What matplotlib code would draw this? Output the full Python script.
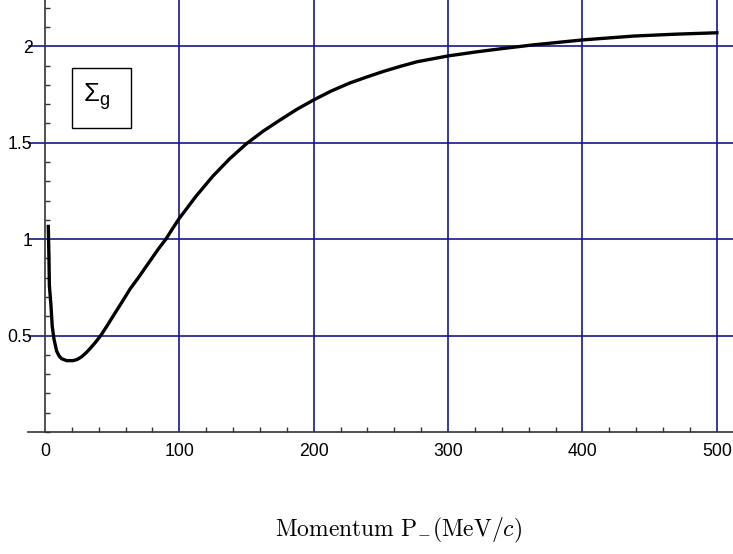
import matplotlib
matplotlib.use('Agg')
import matplotlib.pyplot as plt
import numpy as np
from matplotlib.ticker import MultipleLocator
from matplotlib.patches import Rectangle

# curve
momentum = [2.5, 3.0, 3.3, 4.5, 5.4, 6.7, 8.7, 10.5, 12.4, 16.2, 21, 24, 27.3,
            30.5, 33.5, 37.5, 41.5, 46, 50.9, 57, 63.3, 69.5, 75.7, 84.3, 90,
            95, 100, 112.6, 125, 137.5, 150, 162.4, 174.8, 187.2, 200, 213, 227,
            240, 252, 265, 277, 300, 320, 339, 363, 400, 438, 470, 500]
sigma_g = [1.066, 0.90, 0.76, 0.655, 0.55, 0.483, 0.42, 0.395, 0.38, 0.37, 0.37,
           0.376, 0.39, 0.41, 0.432, 0.464, 0.50, 0.548, 0.603, 0.67, 0.741,
           0.80, 0.862, 0.948, 1.0, 1.055, 1.108, 1.224, 1.327, 1.417, 1.495,
           1.56, 1.617, 1.672, 1.722, 1.768, 1.81, 1.842, 1.87, 1.897, 1.92,
           1.95, 1.97, 1.987, 2.007, 2.033, 2.053, 2.063, 2.07]
xticks = [0, 100, 200, 300, 400, 500]
yticks = [0.5, 1, 1.5, 2]

plt.rcParams['font.family'] = ['Liberation Sans', 'DejaVu Sans']
plt.rcParams['mathtext.fontset'] = 'custom'
plt.rcParams['mathtext.rm'] = 'Liberation Sans'
plt.rcParams['mathtext.it'] = 'Liberation Sans:italic'

fig = plt.figure(figsize=(7.33, 5.54), dpi=100)
ax = fig.add_axes([28/733, 1-432/554, 705/733, 432/554])

grid_col = '#161688'
for xv in xticks[1:]:
    ax.axvline(xv, color=grid_col, lw=1.2, zorder=1)
for yv in yticks:
    ax.axhline(yv, color=grid_col, lw=1.2, zorder=1)

ax.plot(momentum, sigma_g, color='black', lw=2.4, zorder=3, solid_joinstyle='round')

ax.set_xlim(-12.6, 512)
ax.set_ylim(0, 2.24)
ax.spines['left'].set_position(('data', 0))
ax.spines['top'].set_visible(False)
ax.spines['right'].set_visible(False)
for s in ['left', 'bottom']:
    ax.spines[s].set_linewidth(1.2)
    ax.spines[s].set_color('#333333')

ax.set_xticks(xticks)
ax.set_yticks(yticks)
ax.set_yticklabels(['0.5', '1', '1.5', '2'])
ax.xaxis.set_minor_locator(MultipleLocator(20))
ax.yaxis.set_minor_locator(MultipleLocator(0.1))
ax.tick_params(which='major', length=0, labelsize=12.7, pad=8)
ax.tick_params(axis='y', which='major', pad=9)
ax.tick_params(which='minor', direction='in', length=3.5, width=1, color='#333333')

# label box
ax.add_patch(Rectangle((0.062, 0.704), 0.084, 0.138, transform=ax.transAxes,
                       facecolor='white', edgecolor='black', lw=1, zorder=4))
ax.text(0.078, 0.764, r'$\Sigma_{\mathrm{g}}$', transform=ax.transAxes,
        ha='left', va='baseline', fontsize=18.5, zorder=5, math_fontfamily='custom')

fig.text(398/733, 1-530/554, r'$\mathrm{Momentum\ P_{-}(MeV/}c\mathrm{)}$',
         ha='center', va='center', fontsize=17, math_fontfamily='cm')

fig.savefig('out.png', dpi=100)
